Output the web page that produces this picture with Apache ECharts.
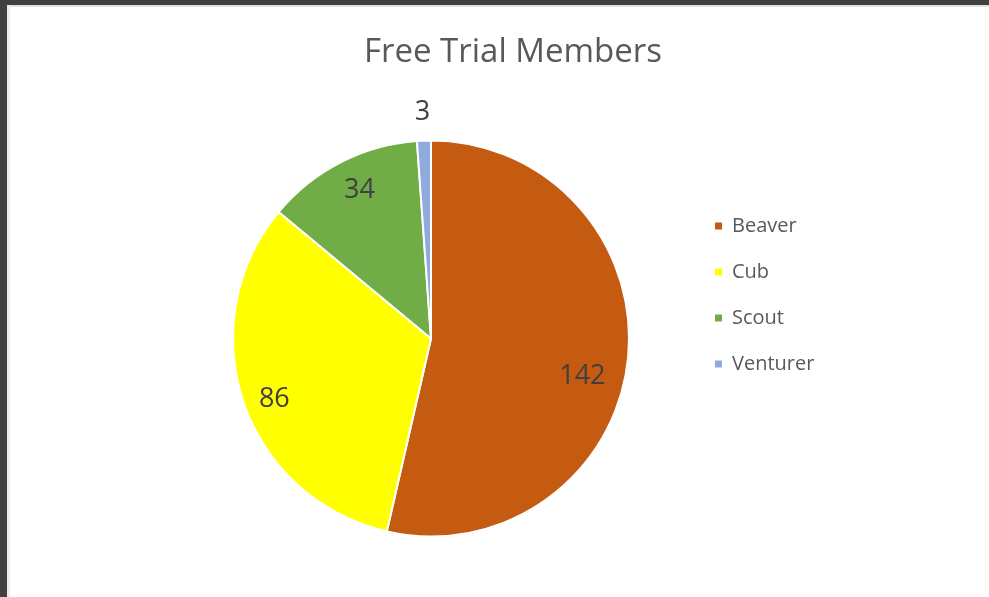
<!DOCTYPE html>
<html>
<head>
<meta charset="utf-8">
<script src="https://cdn.jsdelivr.net/npm/echarts@6/dist/echarts.min.js"></script>
<style>
  html, body { margin: 0; padding: 0; background: #fff; }
  #chart { position: absolute; left: 0; top: 0; width: 989px; height: 597px; }
  .band-top { position: absolute; left: 0; top: 0; width: 989px; height: 5px; background: #404040; }
  .band-left { position: absolute; left: 0; top: 0; width: 7px; height: 597px; background: #404040; }
  .edge-top { position: absolute; left: 7px; top: 5px; width: 982px; height: 2px; background: #e2e2e2; }
  .edge-left { position: absolute; left: 7px; top: 5px; width: 3px; height: 592px; background: #ececec; }
</style>
</head>
<body>
<div id="chart"></div>
<div class="edge-top"></div>
<div class="edge-left"></div>
<div class="band-top"></div>
<div class="band-left"></div>
<script>
// data
const categories = ['Beaver', 'Cub', 'Scout', 'Venturer']
const members = [142, 86, 34, 3]
const colors = ['#C55A11', '#FFFF00', '#70AD47', '#8FAADC']
// nudges to mimic Excel's best-fit label spots
const labelNudge = [[50, 26], [-60, 28], [-25, -57], [-5, -124]]

const chart = echarts.init(document.getElementById('chart'))

chart.setOption({
  animation: false,
  title: {
    text: 'Free Trial Members',
    left: 508,
    top: 31,
    textAlign: 'center',
    textStyle: {
      fontFamily: 'Open Sans',
      fontSize: 33,
      fontWeight: 'normal',
      color: '#595959'
    }
  },
  legend: {
    orient: 'vertical',
    left: 713,
    top: 216,
    padding: 0,
    icon: 'rect',
    itemWidth: 9,
    itemHeight: 9,
    itemGap: 26,
    data: categories,
    textStyle: {
      fontFamily: 'Open Sans',
      fontSize: 20,
      lineHeight: 20,
      color: '#595959',
      padding: [0, 0, 0, 4]
    }
  },
  series: [
    {
      type: 'pie',
      center: [431, 338.5],
      radius: [0, 198],
      startAngle: 90,
      clockwise: true,
      itemStyle: {
        borderColor: '#fff',
        borderWidth: 2
      },
      label: {
        show: true,
        position: 'inside',
        formatter: '{c}',
        fontFamily: 'Open Sans',
        fontSize: 27,
        color: '#404040'
      },
      labelLine: { show: false },
      emphasis: { disabled: true },
      labelLayout: params => ({
        dx: labelNudge[params.dataIndex][0],
        dy: labelNudge[params.dataIndex][1]
      }),
      data: categories.map((name, i) => ({
        name: name,
        value: members[i],
        itemStyle: { color: colors[i] }
      }))
    }
  ]
})
</script>
</body>
</html>
